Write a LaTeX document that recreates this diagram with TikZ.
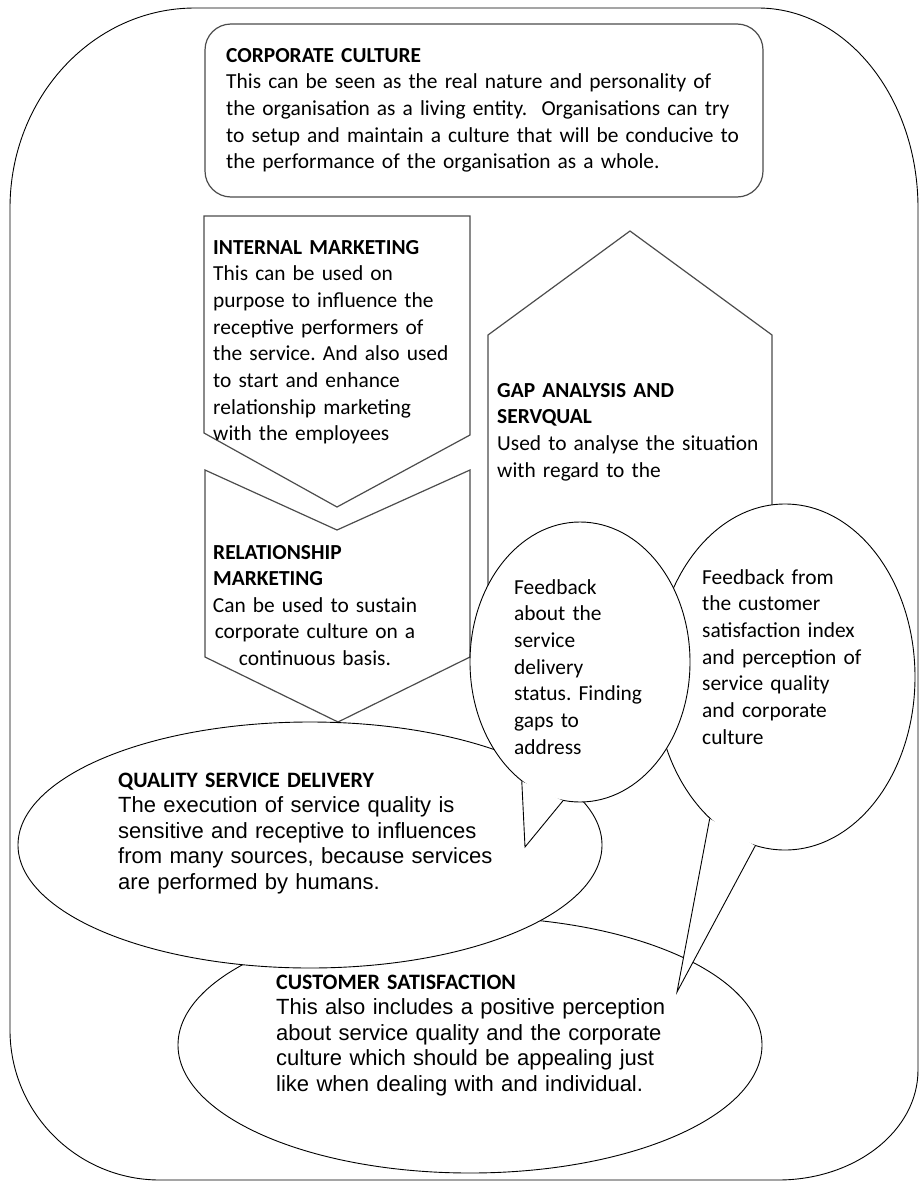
\documentclass[tikz,border=0pt]{standalone}
\usepackage{fontspec}
\setmainfont{Carlito}
\newfontfamily\arialfont{Liberation Sans}
\usetikzlibrary{shapes.geometric}
\frenchspacing

\begin{document}
\begin{tikzpicture}[
        x=1pt, y=-1pt,
        frame/.style = {draw, line width=0.9pt},
        panel/.style = {draw=black!70, line width=1.2pt, fill=white},
        oval/.style = {ellipse, draw, line width=0.9pt, fill=white, inner sep=0pt},
        tail/.style = {draw, line width=0.9pt, line join=miter},
        blurb/.style = {anchor=base west, inner sep=0pt, text width=#1, align=left,
                font=\fontsize{21.4}{26.7}\selectfont},
        blurb/.default = 400pt,
        narrowblurb/.style = {anchor=base west, inner sep=0pt, text width=420pt, align=left,
                font=\fontsize{22}{25.6}\selectfont},
    ]
    \useasboundingbox (0,0) rectangle (923,1183);
    % First the big frame round everything
    \draw[frame] (10,208) .. controls (10,97.5) and (92.8,8) .. (195,8)
        -- (758,8) .. controls (846.4,8) and (918,97.5) .. (918,208)
        -- (918,1070) .. controls (918,1130.8) and (855.3,1180) .. (778,1180)
        -- (160,1180) .. controls (77.2,1180) and (10,1112.8) .. (10,1030) -- cycle;
    \node[panel, rounded corners=26pt, minimum width=558pt, minimum height=173pt,
        inner sep=0pt] (culture) at (484,110.5) {};
    % chevrons and the gap arrow
    \draw[panel] (204,216) -- (470,216) -- (470,435) -- (337,507) -- (204,433) -- cycle;
    \draw[panel] (205,470) -- (337,530) -- (470,470) -- (470,657) -- (338,722)
        -- (205,657) -- cycle;
    \draw[panel] (630,231) -- (772,335) -- (772,700) -- (488,700) -- (488,335) -- cycle;
    % ovals, back to front
    \foreach \pos/\name/\w/\h in {
            {(470,1045)/custsat/584/256},
            {(310,845)/quality/584/246},
            {(785,677)/fbcust/260/346},
            {(580,662)/fbserv/220/280}}
        \node[oval, minimum width=\w pt, minimum height=\h pt] (\name) at \pos {};
    % tails of the speech bubbles
    \coordinate (tipfbcust) at (677,992);
    \coordinate (tipfbserv) at (525,847);
    \foreach \name/\from/\to in {fbcust/-118.3/-100.6, fbserv/-116.6/-97.4} {
        \fill[white] (\name.\from) -- (tip\name) -- (\name.\to) -- cycle;
        \path[tail] (\name.\from) -- (tip\name) -- (\name.\to);
    }
    % Now the texts
    \node[blurb=530pt] (culturetxt) at (226,62) {\textbf{CORPORATE CULTURE}\\
        This can be seen as the real nature and personality of\\
        the organisation as a living entity.\ \ Organisations can try\\
        to setup and maintain a culture that will be conducive to\\
        the performance of the organisation as a whole.};
    \node[blurb=250pt] (intmtxt) at (213,254) {\textbf{INTERNAL MARKETING}\\
        This can be used on\\ purpose to influence the\\ receptive performers of\\
        the service. And also used\\ to start and enhance\\ relationship marketing\\
        with the employees};
    \node[blurb=250pt] (relmhead) at (213,559) {\textbf{RELATIONSHIP}\\ \textbf{MARKETING}};
    \node[blurb=230pt, anchor=base, align=center] (relmtxt) at (315,612)
        {Can be used to sustain\\ corporate culture on a\\ continuous basis.};
    \node[blurb=270pt] (gaptxt) at (497,397) {\textbf{GAP ANALYSIS AND}\\ \textbf{SERVQUAL}\\
        Used to analyse the situation\\ with regard to the};
    \node[blurb=160pt] (fbservtxt) at (514,594) {Feedback\\ about the\\ service\\ delivery\\
        status. Finding\\ gaps to\\ address};
    \node[blurb=180pt] (fbcusttxt) at (702,584) {Feedback from\\ the customer\\
        satisfaction index\\ and perception of\\ service quality\\ and corporate\\ culture};
    \node[narrowblurb] (qualtxt) at (118,787) {\textbf{QUALITY SERVICE DELIVERY}\\
        \arialfont The execution of service quality is\\
        sensitive and receptive to influences\\
        from many sources, because services\\ are performed by humans.};
    \node[narrowblurb] (custtxt) at (276,989) {\textbf{CUSTOMER SATISFACTION}\\
        \arialfont This also includes a positive perception\\
        about service quality and the corporate\\
        culture which should be appealing just\\ like when dealing with and individual.};
\end{tikzpicture}
\end{document}
